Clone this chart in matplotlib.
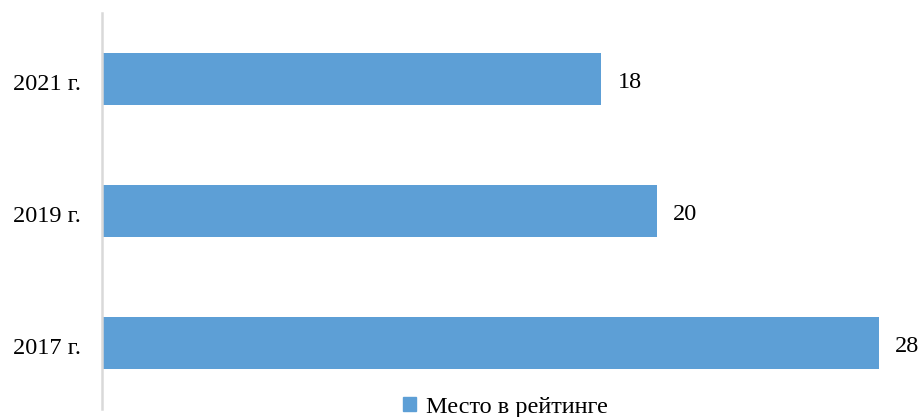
import matplotlib
matplotlib.use("Agg")
import matplotlib.pyplot as plt
import matplotlib.transforms as mtransforms
from matplotlib.patches import Patch

plt.rcParams['font.family'] = ['Liberation Serif', 'DejaVu Serif']

# данные
years = ['2017 г.', '2019 г.', '2021 г.']
places = [28, 20, 18]
series_name = 'Место в рейтинге'
bar_color = '#5D9FD6'

W, H = 922, 417
fig = plt.figure(figsize=(W / 100, H / 100), dpi=100)
ax = fig.add_axes([102 / W, 1 - 409 / H, (916 - 102) / W, (409 - 13) / H])

pos = range(len(years))
bars = ax.barh(pos, places, height=0.394, color=bar_color, label=series_name)
ax.set_ylim(-0.5, len(years) - 0.5)
ax.set_xlim(0, 29.35)

# сдвиг текста немного вниз, как в исходнике
down = mtransforms.ScaledTranslation(0, -3 / 100, fig.dpi_scale_trans)

for b, v in zip(bars, places):
    ax.text(b.get_width() + 0.6, b.get_y() + b.get_height() / 2, str(v),
            va='center', ha='left', fontsize=17.5,
            transform=ax.transData + down)

ax.set_yticks(list(pos))
ax.set_yticklabels(years, fontsize=17.5)
ax.tick_params(axis='y', length=0, pad=15)
for lbl in ax.get_yticklabels():
    lbl.set_transform(lbl.get_transform() + down)
ax.set_xticks([])

for s in ['top', 'right', 'bottom']:
    ax.spines[s].set_visible(False)
ax.spines['left'].set_color('#d9d9d9')
ax.spines['left'].set_linewidth(1.8)

fig.legend(handles=[Patch(color=bar_color, label=series_name)],
           loc='center', bbox_to_anchor=(505 / W, 1 - 407 / H),
           frameon=False, fontsize=17.5, handlelength=0.55, handleheight=0.55,
           handletextpad=0.4, borderpad=0)

fig.savefig('out.png', dpi=100)
